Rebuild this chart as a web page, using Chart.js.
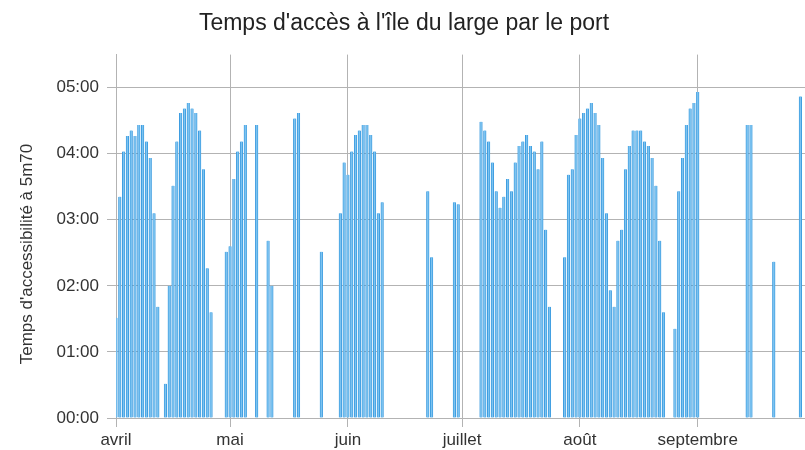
<!DOCTYPE html>
<html>
<head>
<meta charset="utf-8">
<script src="https://cdn.jsdelivr.net/npm/chart.js@4/dist/chart.umd.min.js"></script>
<style>
  html, body { margin: 0; padding: 0; background: #fff; overflow: hidden; }
  #wrap { width: 818px; height: 450px; }
</style>
</head>
<body>
<div id="wrap"><canvas id="chart" width="818" height="450"></canvas></div>
<script>
// jours (MM-JJ) et durée d'accès en minutes
const jours = [
  '04-01','04-02','04-03','04-04','04-05','04-06','04-07','04-08','04-09','04-10','04-11','04-12',
  '04-14','04-15','04-16','04-17','04-18','04-19','04-20','04-21','04-22','04-23','04-24','04-25','04-26',
  '04-30','05-01','05-02','05-03','05-04','05-05','05-08','05-11','05-12','05-18','05-19','05-25',
  '05-30','05-31','06-01','06-02','06-03','06-04','06-05','06-06','06-07','06-08','06-09','06-10',
  '06-22','06-23','06-29','06-30',
  '07-06','07-07','07-08','07-09','07-10','07-11','07-12','07-13','07-14','07-15','07-16','07-17',
  '07-18','07-19','07-20','07-21','07-22','07-23','07-24',
  '07-28','07-29','07-30','07-31','08-01','08-02','08-03','08-04','08-05','08-06','08-07','08-08',
  '08-09','08-10','08-11','08-12','08-13','08-14','08-15','08-16','08-17','08-18','08-19','08-20',
  '08-21','08-22','08-23',
  '08-26','08-27','08-28','08-29','08-30','08-31','09-01','09-14','09-15','09-21','09-28'
];
const minutes = [
  91, 201, 242, 256, 261, 256, 266, 266, 251, 236, 186, 101,
  31, 120, 211, 251, 277, 281, 286, 281, 277, 261, 226, 136, 96,
  151, 156, 217, 242, 251, 266, 266, 161, 120, 272, 277, 151,
  186, 232, 221, 242, 257, 261, 266, 266, 257, 242, 186, 196,
  206, 146, 196, 194,
  269, 261, 251, 232, 206, 191, 201, 217, 206, 232, 247, 251,
  257, 247, 242, 226, 251, 171, 101,
  146, 221, 226, 257, 272, 277, 281, 286, 277, 266, 236, 186,
  116, 101, 161, 171, 226, 247, 261, 261, 261, 251, 247, 236,
  211, 161, 96,
  81, 206, 236, 266, 281, 286, 296, 266, 266, 142, 292
];
const moisLabels = ['avril', 'mai', 'juin', 'juillet', 'août', 'septembre'];
const moisDebut = ['04-01', '05-01', '06-01', '07-01', '08-01', '09-01'];

const FONT = "'Liberation Sans', Arial, sans-serif";
const GRID = '#b3b3b3';

// nombre de jours depuis le 1er avril
const jourIndex = (mmjj) => {
  const [m, d] = mmjj.split('-').map(Number);
  return Math.round((Date.UTC(2001, m - 1, d) - Date.UTC(2001, 3, 1)) / 86400000);
};
const hhmm = (v) => {
  const h = Math.floor(v / 60), m = v % 60;
  return String(h).padStart(2, '0') + ':' + String(m).padStart(2, '0');
};

const yTitle = {
  id: 'yTitle',
  afterDraw(chart) {
    const ctx = chart.ctx;
    ctx.save();
    ctx.translate(27, 254);
    ctx.rotate(-Math.PI / 2);
    ctx.font = '17px ' + FONT;
    ctx.fillStyle = '#333';
    ctx.textAlign = 'center';
    ctx.textBaseline = 'middle';
    ctx.fillText("Temps d'accessibilité à 5m70", 0, 0);
    ctx.restore();
  }
};

new Chart(document.getElementById('chart'), {
  type: 'bar',
  data: {
    datasets: [{
      data: jours.map((j, i) => ({ x: jourIndex(j), y: minutes[i] })),
      backgroundColor: '#7cc3f0',
      borderColor: '#2f94dd',
      borderWidth: { left: 0.8, right: 0.8, top: 0, bottom: 0 },
      borderSkipped: false,
      barThickness: 2.6
    }]
  },
  options: {
    responsive: false,
    animation: false,
    layout: { padding: { left: 0, right: 10, top: 0, bottom: 0 } },
    plugins: {
      legend: { display: false },
      tooltip: { enabled: false },
      title: {
        display: true,
        text: "Temps d'accès à l'île du large par le port",
        color: '#222',
        font: { family: FONT, size: 23, weight: 'normal' },
        padding: { top: 10, bottom: 17 }
      }
    },
    scales: {
      x: {
        type: 'linear',
        min: 0,
        max: 182,
        offset: false,
        afterBuildTicks: (s) => { s.ticks = moisDebut.map(j => ({ value: jourIndex(j) })); },
        afterFit: (s) => { s.height = 32; },
        ticks: {
          autoSkip: false,
          maxRotation: 0,
          padding: 3,
          color: '#333',
          font: { family: FONT, size: 17 },
          callback: (v, i) => moisLabels[i]
        },
        grid: { color: GRID, tickLength: 9, offset: false },
        border: { color: GRID }
      },
      y: {
        min: 0,
        max: 330,
        afterFit: (s) => { s.width = 116; },
        ticks: {
          stepSize: 60,
          includeBounds: false,
          padding: 8,
          color: '#333',
          font: { family: FONT, size: 17 },
          callback: (v) => hhmm(v)
        },
        grid: { color: GRID, tickLength: 9 },
        border: { color: GRID }
      }
    }
  },
  plugins: [yTitle]
});
</script>
</body>
</html>
